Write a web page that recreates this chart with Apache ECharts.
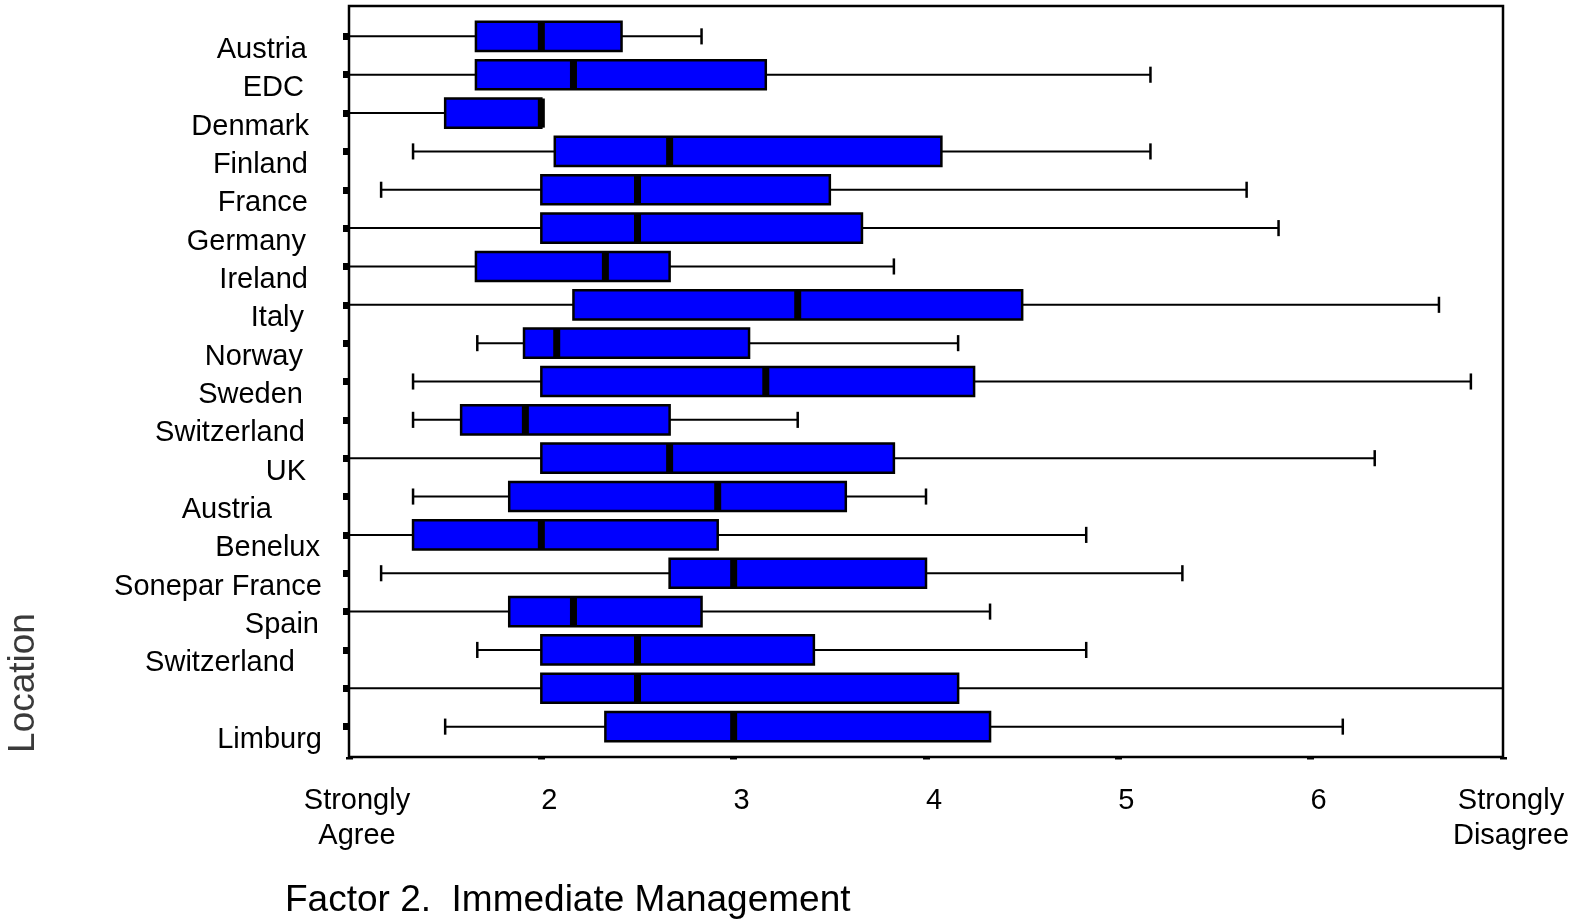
<!DOCTYPE html>
<html>
<head>
<meta charset="utf-8">
<title>Factor 2. Immediate Management</title>
<script src="https://cdn.jsdelivr.net/npm/echarts@6/dist/echarts.min.js"></script>
<style>
  html, body { margin: 0; padding: 0; background: #ffffff; }
  #chart { width: 1580px; height: 919px; }
</style>
</head>
<body>
<div id="chart"></div>
<script>
// Locations, top to bottom (one row carries no name)
const locations = ['Austria', 'EDC', 'Denmark', 'Finland', 'France', 'Germany', 'Ireland', 'Italy',
  'Norway', 'Sweden', 'Switzerland', 'UK', 'Austria', 'Benelux', 'Sonepar France', 'Spain',
  'Switzerland', '', 'Limburg'];

// Five-number summaries on the 1 (strongly agree) .. 7 (strongly disagree) scale
const whiskerLow  = [1, 1, 1, 1.333, 1.167, 1, 1, 1, 1.667, 1.333, 1.333, 1, 1.333, 1, 1.167, 1, 1.667, 1, 1.5];
const quartile1   = [1.66, 1.66, 1.5, 2.07, 2.0, 2.0, 1.66, 2.167, 1.91, 2.0, 1.583, 2.0, 1.833, 1.333, 2.667, 1.833, 2.0, 2.0, 2.333];
const medians     = [2.0, 2.167, 2.0, 2.667, 2.5, 2.5, 2.333, 3.333, 2.08, 3.167, 1.917, 2.667, 2.917, 2.0, 3.0, 2.167, 2.5, 2.5, 3.0];
const quartile3   = [2.417, 3.167, 2.0, 4.08, 3.5, 3.667, 2.667, 4.5, 3.08, 4.25, 2.667, 3.833, 3.583, 2.917, 4.0, 2.833, 3.417, 4.167, 4.333];
const whiskerHigh = [2.833, 5.167, 2.0, 5.167, 5.667, 5.833, 3.833, 6.667, 4.167, 6.833, 3.333, 6.333, 4.0, 4.833, 5.333, 4.333, 4.833, 7.0, 6.167];

// Scale tick labels
const scaleMin = 1;
const scaleMax = 7;
const scaleTickLabels = ['Strongly\nAgree', '2', '3', '4', '5', '6', 'Strongly\nDisagree'];

// Extra right indent of each location label (px)
const labelIndent = [15, 18, 13, 14, 14, 16, 14, 18, 19, 19, 17, 16, 50, 2, 0, 3, 27, 0, 0];

const FONT = '"Liberation Sans", Arial, Helvetica, sans-serif';

const rows = locations.map((name, i) =>
  [i, whiskerLow[i], quartile1[i], medians[i], quartile3[i], whiskerHigh[i]]);

const categoryData = locations.map((name, i) => ({
  value: name,
  textStyle: { padding: [0, labelIndent[i], 0, 0] }
}));

function renderBox(params, api) {
  const row = api.value(0);
  const lo = api.value(1), q1 = api.value(2), med = api.value(3), q3 = api.value(4), hi = api.value(5);
  const band = api.size([0, 1])[1];
  const boxH = band * 0.76;
  const capH = band * 0.42;
  const pLo = api.coord([lo, row]);
  const pQ1 = api.coord([q1, row]);
  const pMed = api.coord([med, row]);
  const pQ3 = api.coord([q3, row]);
  const pHi = api.coord([hi, row]);
  const y = pMed[1];
  const line = { stroke: '#000', lineWidth: 2 };
  const children = [];
  if (q1 > lo) {
    children.push({ type: 'line', shape: { x1: pLo[0], y1: y, x2: pQ1[0], y2: y }, style: line });
    if (lo > scaleMin) {
      children.push({ type: 'line', shape: { x1: pLo[0], y1: y - capH / 2, x2: pLo[0], y2: y + capH / 2 }, style: { stroke: '#000', lineWidth: 2.5 } });
    }
  }
  if (hi > q3) {
    children.push({ type: 'line', shape: { x1: pQ3[0], y1: y, x2: pHi[0], y2: y }, style: line });
    if (hi < scaleMax) {
      children.push({ type: 'line', shape: { x1: pHi[0], y1: y - capH / 2, x2: pHi[0], y2: y + capH / 2 }, style: { stroke: '#000', lineWidth: 2.5 } });
    }
  }
  children.push({
    type: 'rect',
    shape: { x: pQ1[0], y: y - boxH / 2, width: pQ3[0] - pQ1[0], height: boxH },
    style: { fill: '#0000ff', stroke: '#000', lineWidth: 2.5 }
  });
  children.push({
    type: 'rect',
    shape: { x: pMed[0] - 3.5, y: y - boxH / 2, width: 7, height: boxH },
    style: { fill: '#000' }
  });
  return { type: 'group', children: children };
}

const chart = echarts.init(document.getElementById('chart'), null, { renderer: 'canvas' });

chart.setOption({
  animation: false,
  backgroundColor: '#ffffff',
  textStyle: { fontFamily: FONT },
  title: {
    text: 'Factor 2.  Immediate Management',
    left: 280,
    top: 877,
    textStyle: { fontFamily: FONT, fontSize: 37, fontWeight: 'normal', color: '#000' }
  },
  graphic: [{
    type: 'text',
    x: 24,
    y: 683,
    rotation: Math.PI / 2,
    style: {
      text: 'Location',
      font: '300 37px ' + FONT,
      fill: '#3a3a3a',
      align: 'center',
      verticalAlign: 'middle'
    }
  }],
  grid: [
    // rows of boxes
    { left: 349, top: 17.2, width: 1154, height: 728.6 },
    // plot frame
    { left: 349, top: 6, width: 1154, height: 751, show: true, borderColor: '#000', borderWidth: 2.5, backgroundColor: 'transparent' },
    // location names, set slightly below their rows
    { left: 349, top: 30.7, width: 1154, height: 728.6 }
  ],
  xAxis: [
    { gridIndex: 0, type: 'value', min: scaleMin, max: scaleMax, show: false },
    {
      gridIndex: 1, type: 'value', min: scaleMin, max: scaleMax, interval: 1, offset: 4,
      axisLine: { show: false },
      splitLine: { show: false },
      axisTick: { show: true, length: 2.5, lineStyle: { color: '#000', width: 7 } },
      axisLabel: {
        margin: 22,
        fontSize: 29,
        lineHeight: 35,
        color: '#000',
        fontFamily: FONT,
        padding: [0, 0, 0, 16],
        formatter: (v) => scaleTickLabels[Math.round(v) - scaleMin]
      }
    },
    { gridIndex: 2, type: 'value', min: scaleMin, max: scaleMax, show: false }
  ],
  yAxis: [
    {
      gridIndex: 0, type: 'category', inverse: true, data: locations.map((n, i) => i),
      axisLine: { show: false },
      axisTick: { show: true, alignWithLabel: true, interval: 0, length: 6, lineStyle: { color: '#000', width: 7 } },
      axisLabel: { show: false },
      splitLine: { show: false }
    },
    { gridIndex: 1, type: 'value', show: false },
    {
      gridIndex: 2, type: 'category', inverse: true, data: categoryData,
      axisLine: { show: false },
      axisTick: { show: false },
      axisLabel: { interval: 0, margin: 27, fontSize: 29, color: '#000', fontFamily: FONT },
      splitLine: { show: false }
    }
  ],
  series: [{
    type: 'custom',
    xAxisIndex: 0,
    yAxisIndex: 0,
    renderItem: renderBox,
    encode: { y: 0, x: [1, 2, 3, 4, 5] },
    data: rows,
    clip: false
  }]
});
</script>
</body>
</html>
